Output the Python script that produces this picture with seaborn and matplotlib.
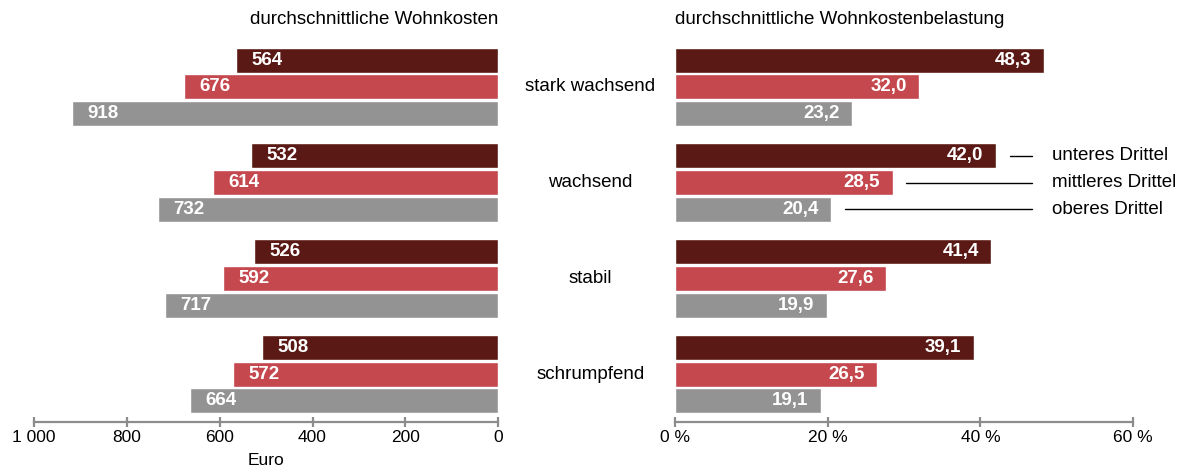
import matplotlib
matplotlib.use("Agg")
import matplotlib.pyplot as plt
import matplotlib.transforms as mtransforms
import pandas as pd
import seaborn as sns

# --- data -------------------------------------------------------------
regions = ["stark wachsend", "wachsend", "stabil", "schrumpfend"]
groups = ["unteres Drittel", "mittleres Drittel", "oberes Drittel"]
costs_lower = [564, 532, 526, 508]
costs_middle = [676, 614, 592, 572]
costs_upper = [918, 732, 717, 664]
burden_lower = [48.3, 42.0, 41.4, 39.1]
burden_middle = [32.0, 28.5, 27.6, 26.5]
burden_upper = [23.2, 20.4, 19.9, 19.1]
cost_ticks = [1000, 800, 600, 400, 200, 0]
cost_tick_labels = ["1 000", "800", "600", "400", "200", "0"]
burden_ticks = [0, 20, 40, 60]
burden_tick_labels = ["0 %", "20 %", "40 %", "60 %"]

colors = ["#5a1915", "#c4484e", "#939393"]

rows = []
for i, r in enumerate(regions):
    for g, c, b in zip(groups,
                       [costs_lower[i], costs_middle[i], costs_upper[i]],
                       [burden_lower[i], burden_middle[i], burden_upper[i]]):
        rows.append({"region": r, "group": g, "cost": c, "burden": b})
df = pd.DataFrame(rows)

sns.set_theme(style="white")
plt.rcParams["font.family"] = ["Liberation Sans", "DejaVu Sans"]
plt.rcParams["text.color"] = "black"
plt.rcParams["xtick.labelcolor"] = "black"
plt.rcParams["axes.labelcolor"] = "black"

TXT = 13.5   # general text size
fig = plt.figure(figsize=(11.78, 4.71), dpi=100)
ax1 = fig.add_axes([0.0289, 0.104, 0.394, 0.813])
ax2 = fig.add_axes([0.573, 0.104, 0.389, 0.813])

for ax, col in [(ax1, "cost"), (ax2, "burden")]:
    sns.barplot(data=df, y="region", x=col, hue="group", order=regions,
                hue_order=groups, palette=colors, orient="h", width=0.84,
                gap=0.07, saturation=1, legend=False, ax=ax)
    ax.set_ylim(3.5, -0.5)
    ax.set_ylabel("")
    ax.set_yticks([])
    for s in ["top", "left", "right"]:
        ax.spines[s].set_visible(False)
    ax.spines["bottom"].set_color("#8c8c8c")
    ax.spines["bottom"].set_linewidth(1.6)
    ax.tick_params(axis="x", direction="inout", length=7, width=1.6,
                   color="#8c8c8c", labelsize=12.5, pad=2, bottom=True)

# left panel: costs, reversed axis
ax1.set_xlim(1000, 0)
ax1.set_xticks(cost_ticks)
ax1.set_xticklabels(cost_tick_labels)
ax1.set_xlabel("Euro", fontsize=12.5, labelpad=6)
for cont in ax1.containers:
    for bar in cont:
        w = bar.get_width()
        y = bar.get_y() + bar.get_height() / 2
        ax1.annotate(f"{w:.0f}", (w, y), xytext=(11, 0),
                     textcoords="offset points", ha="left", va="center",
                     color="white", fontweight="bold", fontsize=13.5)
ax1.text(1.0, 1.05, "durchschnittliche Wohnkosten", transform=ax1.transAxes,
         ha="right", va="center", fontsize=TXT)

# right panel: burden
ax2.set_xlim(0, 60)
ax2.set_xticks(burden_ticks)
ax2.set_xticklabels(burden_tick_labels)
ax2.set_xlabel("")
for cont in ax2.containers:
    for bar in cont:
        w = bar.get_width()
        y = bar.get_y() + bar.get_height() / 2
        ax2.annotate(f"{w:.1f}".replace(".", ","), (w, y), xytext=(-9, 0),
                     textcoords="offset points", ha="right", va="center",
                     color="white", fontweight="bold", fontsize=13.5)
ax2.text(0.0, 1.05, "durchschnittliche Wohnkostenbelastung",
         transform=ax2.transAxes, ha="left", va="center", fontsize=TXT)

# region labels between the panels
trans = mtransforms.blended_transform_factory(fig.transFigure, ax2.transData)
for i, r in enumerate(regions):
    ax2.text(0.501, i, r, transform=trans, ha="center", va="center",
             fontsize=TXT)

# legend annotations on the "wachsend" bars
for cont, g in zip(ax2.containers, groups):
    bar = cont[1]
    w = bar.get_width()
    y = bar.get_y() + bar.get_height() / 2
    ax2.plot([w + 1.8, 46.8], [y, y], color="black", lw=1, clip_on=False)
    ax2.text(49.3, y, g, ha="left", va="center", fontsize=TXT)

fig.savefig("out.png", dpi=100)
